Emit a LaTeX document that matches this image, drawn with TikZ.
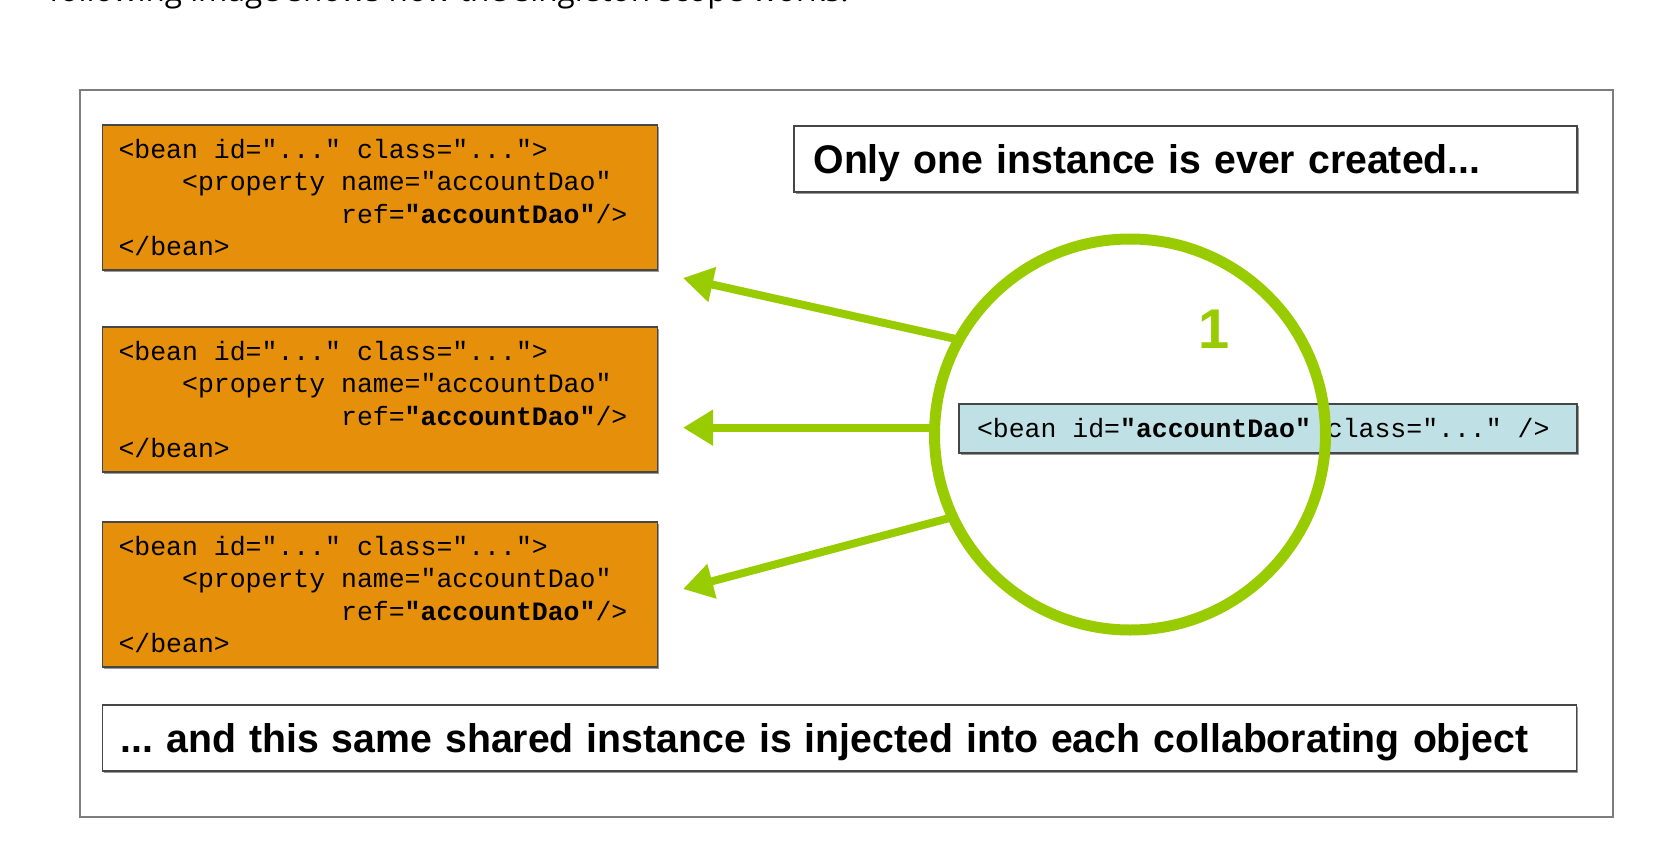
\documentclass[tikz,border=0pt]{standalone}
\usepackage{graphicx}
\usepackage{fontspec}
\setmainfont{Liberation Sans}
\newfontfamily\codefont{Liberation Mono}[WordSpace={1,0,0}]
\newfontfamily\introfont{Open Sans}
\usetikzlibrary{arrows.meta,shadows}
\definecolor{beanorange}{RGB}{230,143,10}
\definecolor{beanblue}{RGB}{191,225,229}
\definecolor{singlegreen}{RGB}{153,204,0}
\definecolor{edgegray}{RGB}{70,70,70}
\definecolor{framegray}{RGB}{125,125,125}
\newcommand{\indentby}[1]{\phantom{#1}}
\newcommand{\csp}{\phantom{x}}
\frenchspacing
\begin{document}
\begin{tikzpicture}[x=1pt,y=-1pt,
  every node/.style={outer sep=0pt},
  boxshadow/.style={drop shadow={shadow xshift=1.5pt,shadow yshift=-1.5pt,fill=black!40,opacity=1}},
  codebox/.style={draw=edgegray,line width=1.3pt,fill=beanorange,anchor=north west,
    text width=523pt,inner xsep=16pt,inner ysep=0pt,minimum height=145pt,align=left,
    font={\codefont\fontsize{26.5pt}{32.4pt}\selectfont},boxshadow},
  bluebox/.style={draw=edgegray,line width=1.3pt,fill=beanblue,anchor=north west,
    text width=582pt,inner xsep=18pt,inner ysep=0pt,minimum height=49pt,align=left,
    font={\codefont\fontsize{26.5pt}{32.4pt}\selectfont},boxshadow},
  textbox/.style={draw=edgegray,line width=1.3pt,fill=white,anchor=north west,
    inner ysep=0pt,minimum height=66pt,align=left,text height=29pt,text depth=0pt,
    font={\bfseries\fontsize{40pt}{44pt}\selectfont\frenchspacing},boxshadow},
  greenarrow/.style={draw=singlegreen,line width=8pt,-{Triangle[length=30pt,width=34pt]}}
]
\useasboundingbox (0,0) rectangle (1674,854);
\node[anchor=base west,inner sep=0pt,font={\introfont\fontsize{31.5pt}{36pt}\selectfont}] (intro) at (49,1.5) {following image shows how the singleton scope works.};
\node[draw=framegray,line width=2.5pt,anchor=north west,inner sep=0pt,minimum width=1533pt,minimum height=727pt] (frame) at (80,90) {};
\node[codebox] (bean1) at (102.5,125) {<bean\csp id="..."\csp class="...">\\
\indentby{xxxx}<property\csp name="accountDao"\\
\indentby{xxxxxxxxxxxxxx}ref=\textbf{"accountDao"}/>\\
</bean>};
\node[codebox] (bean2) at (102.5,327) {<bean\csp id="..."\csp class="...">\\
\indentby{xxxx}<property\csp name="accountDao"\\
\indentby{xxxxxxxxxxxxxx}ref=\textbf{"accountDao"}/>\\
</bean>};
\node[codebox] (bean3) at (102.5,522) {<bean\csp id="..."\csp class="...">\\
\indentby{xxxx}<property\csp name="accountDao"\\
\indentby{xxxxxxxxxxxxxx}ref=\textbf{"accountDao"}/>\\
</bean>};
\node[textbox,text width=744pt,inner xsep=19.5pt] (title) at (794,126) {\resizebox{667pt}{\height}{Only one instance is ever created...}};
\node[textbox,text width=1438pt,inner xsep=18pt] (shared) at (102.5,705) {\resizebox{1408pt}{\height}{... and this same shared instance is injected into each collaborating object}};
\node[bluebox] (single) at (959,404) {<bean\csp id=\textbf{"accountDao"}\csp class="..."\csp />};
\node[draw=singlegreen,line width=11pt,circle,minimum size=391pt,inner sep=0pt] (one) at (1130,434.5) {};
\node[text=singlegreen,inner sep=0pt,font={\bfseries\fontsize{56pt}{56pt}\selectfont}] (count) at (1214,329.5) {1};
\coordinate (tip1) at (683,278);
\coordinate (tip2) at (one.178.1 -| tip1);
\coordinate (tip3) at (683,589);
\draw[greenarrow] (one.151.4) -- (tip1);
\draw[greenarrow] (one.178.1) -- (tip2);
\draw[greenarrow] (one.205.3) -- (tip3);
\end{tikzpicture}
\end{document}
